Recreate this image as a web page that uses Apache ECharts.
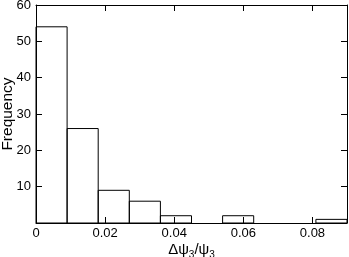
<!DOCTYPE html>
<html><head><meta charset="utf-8">
<script src="https://cdn.jsdelivr.net/npm/echarts@6/dist/echarts.min.js"></script>
<style>html,body{margin:0;padding:0;background:#fff}#c{width:349px;height:257px}</style>
</head><body><div id="c"></div>
<script>
const binStarts = [0, 0.009, 0.018, 0.027, 0.036, 0.045, 0.054, 0.063, 0.072, 0.081];
const binWidth = 0.009;
const counts = [54, 26, 9, 6, 2, 0, 2, 0, 0, 1];
const xTicks = [0, 0.02, 0.04, 0.06, 0.08];
const yTicks = [10, 20, 30, 40, 50, 60];

const data = binStarts.map((s, i) => [s, s + binWidth, counts[i]]);
const FONT = 'Liberation Sans, Arial, sans-serif';
const chart = echarts.init(document.getElementById('c'), null, {renderer: 'canvas'});
const lineStyle = {color: '#000', width: 1};
const tick = {show: true, inside: true, length: 6, lineStyle};
chart.setOption({
  animation: false,
  grid: {left: 36, right: 2, top: 5, bottom: 34, containLabel: false, outerBoundsMode: 'none'},
  xAxis: [{
    type: 'value', min: 0, max: 0.09, interval: 0.02,
    axisLine: {show: true, onZero: false, lineStyle}, splitLine: {show: false},
    axisTick: tick,
    axisLabel: {showMaxLabel: false, margin: 4, color: '#000', fontFamily: FONT, fontSize: 13,
      formatter: v => xTicks.includes(+v.toFixed(3)) ? (v === 0 ? '0' : v.toFixed(2)) : ''},
    name: '{a|Δψ}{s|3}{a|/ψ}{s|3}', nameLocation: 'middle', nameGap: 17, nameMoveOverlap: false,
    nameTextStyle: {rich: {
      a: {fontFamily: FONT, fontSize: 15, color: '#000'},
      s: {fontFamily: FONT, fontSize: 10, color: '#000', padding: [10, 0, 0, 0]}
    }}
  }, {
    type: 'value', position: 'top', min: 0, max: 0.09, interval: 0.02,
    axisLine: {show: true, onZero: false, lineStyle}, splitLine: {show: false},
    axisTick: tick, axisLabel: {show: false}
  }],
  yAxis: [{
    type: 'value', min: 0, max: 60, interval: 10,
    axisLine: {show: true, onZero: false, lineStyle}, splitLine: {show: false},
    axisTick: tick,
    axisLabel: {showMinLabel: false, margin: 5, color: '#000', fontFamily: FONT, fontSize: 13,
      formatter: v => yTicks.includes(v) ? String(v) : ''},
    name: 'Frequency', nameLocation: 'middle', nameGap: 20, nameRotate: 90, nameMoveOverlap: false,
    nameTextStyle: {fontFamily: FONT, fontSize: 15.5, color: '#000'}
  }, {
    type: 'value', position: 'right', min: 0, max: 60, interval: 10,
    axisLine: {show: true, onZero: false, lineStyle}, splitLine: {show: false},
    axisTick: tick, axisLabel: {show: false}
  }],
  series: [{
    type: 'custom',
    xAxisIndex: 0, yAxisIndex: 0,
    data: data,
    renderItem: function (params, api) {
      const p0 = api.coord([api.value(0), 0]);
      const p1 = api.coord([api.value(1), api.value(2)]);
      if (api.value(2) <= 0) return null;
      return {
        type: 'rect',
        shape: {x: p0[0], y: p1[1], width: p1[0] - p0[0], height: p0[1] - p1[1]},
        style: {fill: 'none', stroke: '#000', lineWidth: 1}
      };
    }
  }]
});
</script></body></html>
